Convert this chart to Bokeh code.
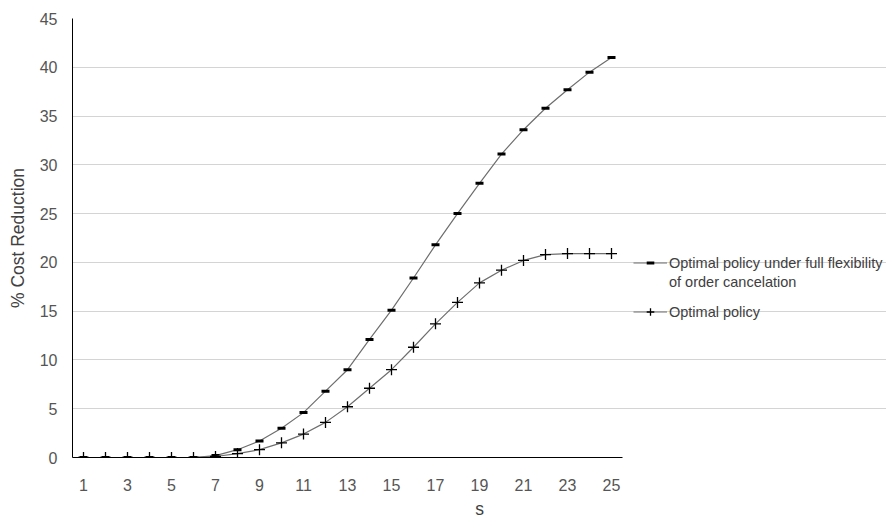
from bokeh.plotting import figure
from bokeh.models import Range1d, FixedTicker, Legend, LegendItem, ColumnDataSource
from bokeh.embed import file_html
from bokeh.resources import INLINE

s_values = list(range(1, 26))
full_flex = [0, 0, 0, 0, 0, 0, 0.2, 0.8, 1.7, 3.0, 4.6, 6.8, 9.0, 12.1, 15.1,
             18.4, 21.8, 25.0, 28.1, 31.1, 33.6, 35.8, 37.7, 39.5, 41.0]
optimal = [0, 0, 0, 0, 0, 0, 0.1, 0.4, 0.8, 1.5, 2.4, 3.6, 5.2, 7.1, 9.0,
           11.3, 13.7, 15.9, 17.9, 19.2, 20.2, 20.8, 20.9, 20.9, 20.9]
x_ticks = list(range(1, 26, 2))
y_ticks = list(range(0, 46, 5))
label_full_1 = "Optimal policy under full flexibility"
label_full_2 = "of order cancelation"
label_opt = "Optimal policy"

FONT = "Liberation Sans"

# the frame extends to the right to hold the legend; axis/grid are bounded to the data span
p = figure(width=886, height=521, output_backend="svg", toolbar_location=None,
           x_range=Range1d(0.5, 37.5), y_range=Range1d(0, 45),
           min_border_left=72, min_border_right=0, min_border_top=18,
           min_border_bottom=64)
p.outline_line_color = None
p.background_fill_color = "white"

src = ColumnDataSource(dict(s=s_values, full=full_flex, opt=optimal))

l1 = p.line("s", "full", source=src, line_color="#6e6e6e", line_width=1.2)
m1 = p.scatter("s", "full", source=src, marker="dash", size=8, line_width=3,
               line_color="black")
l2 = p.line("s", "opt", source=src, line_color="#6e6e6e", line_width=1.2)
m2 = p.scatter("s", "opt", source=src, marker="cross", size=11, line_width=1.3,
               line_color="black")
dummy = p.line([], [], line_alpha=0)

# axes
for ax in (p.xaxis[0], p.yaxis[0]):
    ax.major_tick_out = 0
    ax.major_tick_in = 0
    ax.minor_tick_out = 0
    ax.minor_tick_in = 0
    ax.axis_line_color = "black"
    ax.axis_line_width = 1
    ax.major_label_text_font = FONT
    ax.major_label_text_font_size = "16px"
    ax.major_label_text_color = "#555555"
    ax.axis_label_text_font = FONT
    ax.axis_label_text_font_style = "normal"
    ax.axis_label_text_color = "#404040"
    ax.axis_label_text_font_size = "17.5px"

p.xaxis.ticker = FixedTicker(ticks=x_ticks)
p.xaxis.bounds = (0.5, 25.5)
p.yaxis.ticker = FixedTicker(ticks=y_ticks)
p.xaxis.major_label_standoff = 21
p.yaxis.major_label_standoff = 15
p.xaxis.axis_label = "s"
p.xaxis.axis_label_standoff = 5
p.yaxis.axis_label = "% Cost Reduction"
p.yaxis.axis_label_standoff = 9

p.xgrid.visible = False
p.ygrid.ticker = FixedTicker(ticks=y_ticks[1:-1])
p.ygrid.bounds = (0.5, 25.5)
p.ygrid.grid_line_color = "#d4d4d4"
p.ygrid.grid_line_width = 1

def make_legend(items, loc):
    return Legend(items=items, location=loc, orientation="vertical",
                  padding=0, margin=0, spacing=0, glyph_width=34, glyph_height=19,
                  label_height=19, label_standoff=2,
                  label_text_font=FONT, label_text_font_size="14.5px",
                  label_text_color="#404040", border_line_alpha=0,
                  background_fill_alpha=0)

legA = make_legend([LegendItem(label=label_full_1, renderers=[l1, m1]),
                    LegendItem(label=label_full_2, renderers=[dummy])], (561, 166))
legB = make_legend([LegendItem(label=label_opt, renderers=[l2, m2])], (561, 136))
p.add_layout(legA, "center")
p.add_layout(legB, "center")

open("out.html", "w").write(file_html(p, INLINE))
